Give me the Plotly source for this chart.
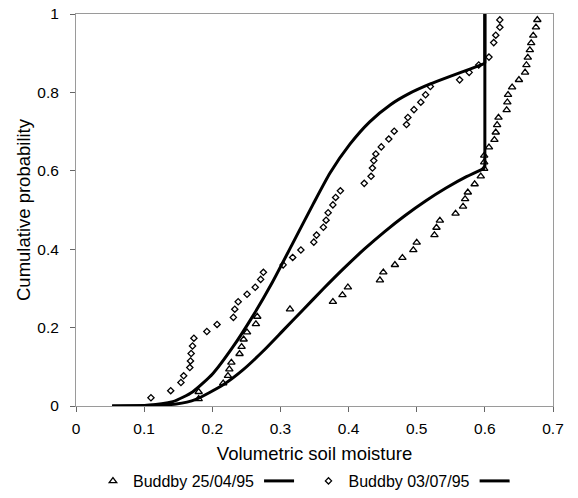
import plotly.graph_objects as go

# Observed data: Buddby 25/04/95 (triangles)
tri_x = [0.180, 0.180, 0.216, 0.223, 0.225, 0.228, 0.240, 0.243, 0.246, 0.251, 0.264, 0.266,
         0.314, 0.377, 0.391, 0.399, 0.446, 0.451, 0.468, 0.479, 0.495, 0.500, 0.526, 0.529,
         0.534, 0.557, 0.568, 0.571, 0.575, 0.585, 0.594, 0.599, 0.599, 0.599, 0.606, 0.614,
         0.616, 0.618, 0.620, 0.632, 0.633, 0.634, 0.640, 0.650, 0.659, 0.661, 0.663, 0.666,
         0.668, 0.671, 0.675, 0.677]
tri_y = [0.018, 0.036, 0.058, 0.077, 0.094, 0.111, 0.133, 0.151, 0.170, 0.188, 0.209, 0.228,
         0.247, 0.266, 0.283, 0.303, 0.321, 0.341, 0.360, 0.378, 0.398, 0.417, 0.436, 0.455,
         0.473, 0.491, 0.509, 0.528, 0.545, 0.566, 0.586, 0.605, 0.622, 0.639, 0.660, 0.679,
         0.698, 0.717, 0.736, 0.755, 0.775, 0.794, 0.813, 0.832, 0.851, 0.870, 0.889, 0.908,
         0.926, 0.945, 0.966, 0.985]

# Observed data: Buddby 03/07/95 (diamonds)
dia_x = [0.110, 0.139, 0.154, 0.158, 0.167, 0.168, 0.169, 0.171, 0.173, 0.192, 0.207, 0.231,
         0.233, 0.238, 0.251, 0.263, 0.271, 0.275, 0.304, 0.318, 0.330, 0.349, 0.353, 0.363,
         0.367, 0.370, 0.377, 0.381, 0.388, 0.423, 0.433, 0.435, 0.437, 0.440, 0.448, 0.459,
         0.467, 0.485, 0.487, 0.496, 0.506, 0.513, 0.520, 0.563, 0.577, 0.591, 0.606, 0.613,
         0.616, 0.622, 0.622]
dia_y = [0.021, 0.039, 0.060, 0.077, 0.098, 0.115, 0.134, 0.153, 0.173, 0.190, 0.208, 0.226,
         0.247, 0.266, 0.285, 0.303, 0.323, 0.341, 0.360, 0.379, 0.398, 0.418, 0.436, 0.456,
         0.474, 0.493, 0.513, 0.532, 0.549, 0.568, 0.586, 0.607, 0.626, 0.643, 0.661, 0.681,
         0.701, 0.718, 0.736, 0.756, 0.775, 0.794, 0.815, 0.832, 0.851, 0.870, 0.890, 0.927,
         0.946, 0.966, 0.985]

# Fitted curve for 25/04/95 (lower curve) up to the saturation point
fit1_x = [0.053, 0.100, 0.147, 0.176, 0.216, 0.245, 0.274, 0.303, 0.333, 0.363, 0.393, 0.423,
          0.453, 0.483, 0.513, 0.543, 0.573, 0.600]
fit1_y = [0.000, 0.001, 0.005, 0.017, 0.054, 0.092, 0.139, 0.191, 0.245, 0.299, 0.351, 0.400,
          0.445, 0.486, 0.523, 0.556, 0.585, 0.607]
# vertical jump of the fitted curve at saturation (0.6)
jump1_x = [0.600, 0.600]
jump1_y = [0.607, 1.000]

# Fitted curve for 03/07/95 (upper curve) up to the saturation point
fit2_x = [0.053, 0.100, 0.142, 0.171, 0.201, 0.230, 0.259, 0.288, 0.318, 0.348, 0.373, 0.402,
          0.431, 0.461, 0.490, 0.519, 0.549, 0.579, 0.600]
fit2_y = [0.000, 0.001, 0.011, 0.036, 0.083, 0.150, 0.228, 0.315, 0.415, 0.515, 0.595, 0.668,
          0.725, 0.768, 0.798, 0.821, 0.841, 0.860, 0.874]
jump2_x = [0.600, 0.600]
jump2_y = [0.874, 1.000]

x_ticks = [0, 0.1, 0.2, 0.3, 0.4, 0.5, 0.6, 0.7]
x_labels = ["0", "0.1", "0.2", "0.3", "0.4", "0.5", "0.6", "0.7"]
y_ticks = [0, 0.2, 0.4, 0.6, 0.8, 1]
y_labels = ["0", "0.2", "0.4", "0.6", "0.8", "1"]

FONT = "Arial, 'Liberation Sans', Helvetica, sans-serif"
AXIS_GREY = "#9a9a9a"
TICK_GREY = "#666666"
CURVE = dict(color="black", width=3, shape="spline", smoothing=0.6)

fig = go.Figure()
fig.add_trace(go.Scatter(x=tri_x, y=tri_y, mode="markers", name="Buddby 25/04/95",
                         marker=dict(symbol="triangle-up-open", size=6.5, color="black",
                                     line=dict(width=1.3, color="black"))))
fig.add_trace(go.Scatter(x=fit1_x, y=fit1_y, mode="lines", name=" ", line=CURVE))
fig.add_trace(go.Scatter(x=dia_x, y=dia_y, mode="markers", name="Buddby 03/07/95",
                         marker=dict(symbol="diamond-open", size=4.8, color="black",
                                     line=dict(width=1.3, color="black"))))
fig.add_trace(go.Scatter(x=fit2_x, y=fit2_y, mode="lines", name="  ", line=CURVE))
fig.add_trace(go.Scatter(x=jump1_x, y=jump1_y, mode="lines", showlegend=False,
                         line=dict(color="black", width=3)))
fig.add_trace(go.Scatter(x=jump2_x, y=jump2_y, mode="lines", showlegend=False,
                         line=dict(color="black", width=3)))

fig.update_layout(
    width=578, height=498,
    margin=dict(l=76, r=25, t=14, b=92),
    paper_bgcolor="white", plot_bgcolor="white",
    font=dict(family=FONT, size=15, color="black"),
    showlegend=True,
    legend=dict(orientation="h", x=0.538, xanchor="center", xref="container",
                y=-0.03, yanchor="bottom", yref="container",
                font=dict(size=16), itemwidth=30, tracegroupgap=0,
                bgcolor="rgba(0,0,0,0)"),
    xaxis=dict(range=[0, 0.7], tickvals=x_ticks, ticktext=x_labels, automargin=False,
               showgrid=False, zeroline=False, showline=True, mirror=True,
               linecolor=AXIS_GREY, linewidth=1, ticks="outside", ticklen=5,
               tickcolor=TICK_GREY, tickfont=dict(size=15.5), ticklabelstandoff=3,
               title=dict(text="Volumetric soil moisture", font=dict(size=18.5), standoff=28)),
    xaxis2=dict(range=[0, 0.7], tickvals=x_ticks, overlaying="x", anchor="y", side="bottom",
                showgrid=False, zeroline=False, showline=False, showticklabels=False,
                ticks="inside", ticklen=4, tickcolor=TICK_GREY),
    yaxis=dict(range=[0, 1], tickvals=y_ticks, ticktext=y_labels, automargin=False,
               showgrid=False, zeroline=False, showline=True, mirror=True,
               linecolor=AXIS_GREY, linewidth=1, ticks="outside", ticklen=5,
               tickcolor=TICK_GREY, tickfont=dict(size=15.5), ticklabelstandoff=8,
               title=dict(text="Cumulative probability", font=dict(size=18.5), standoff=1)),
)

# remove the default page margin so the 578x498 figure fills the window exactly
fig.write_html("out.html", config={"displayModeBar": False},
               post_script="document.body.style.margin='0px';")
